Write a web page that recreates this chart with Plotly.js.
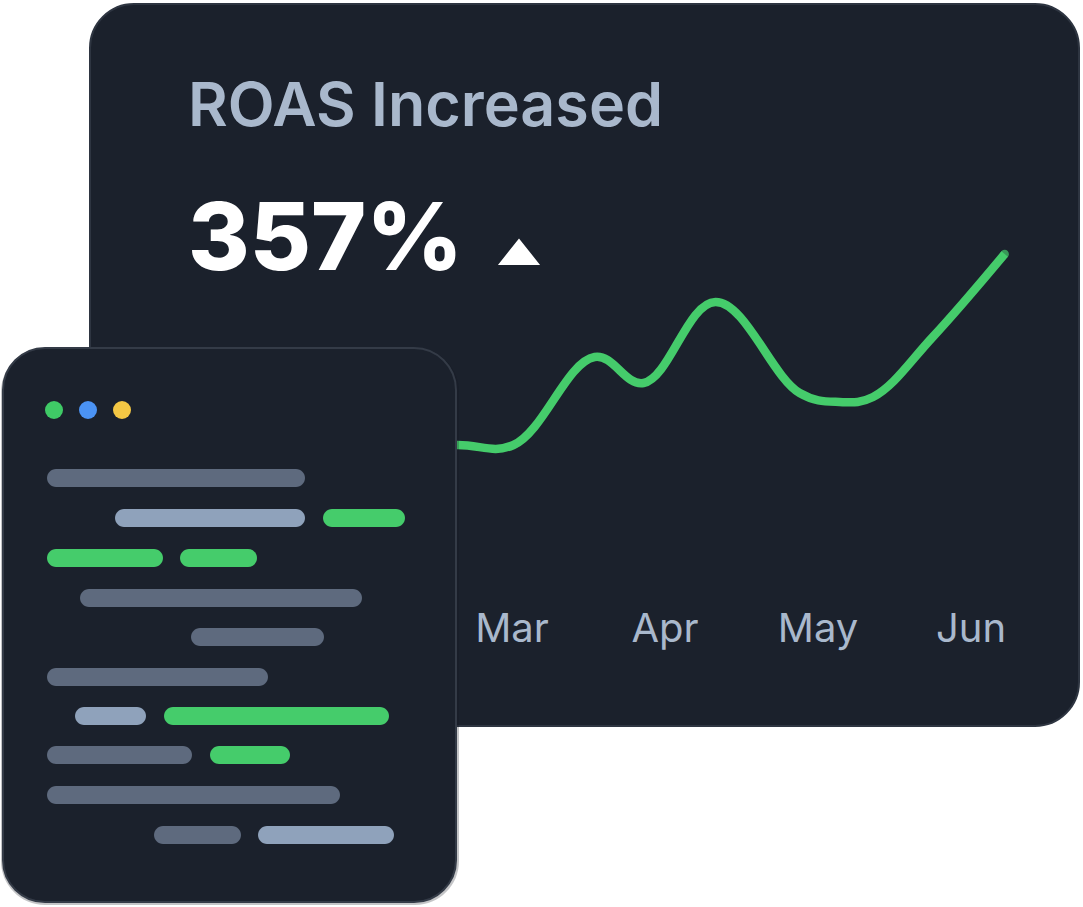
<!DOCTYPE html>
<html>
<head>
<meta charset="utf-8">
<script src="https://cdn.plot.ly/plotly-3.0.1.min.js"></script>
<style>
  html, body { margin: 0; padding: 0; background: #ffffff; }
  #chart { width: 1083px; height: 907px; }
</style>
</head>
<body>
<div id="chart"></div>
<script>
// ---- Data ----
var months = ['Jan', 'Feb', 'Mar', 'Apr', 'May', 'Jun'];
var visibleMonthIdx = [2, 3, 4, 5];
// time position in months (0 = Jan) and ROAS values
var roasT = [0, 1, 1.64, 2.01, 2.54, 2.86, 3.33, 3.88, 4.14, 4.36, 4.75, 5.22];
var roasV = [1.55, 1.62, 1.65, 1.65, 2.53, 2.27, 3.08, 2.17, 2.08, 2.13, 2.73, 3.56];
var titleText = 'ROAS Increased';
var kpiText = '357%';

// ---- Geometry helpers (decoration only) ----
var W = 1083, H = 907;
function px(x) { return x / W; }
function py(y) { return 1 - y / H; }
function rr(x0, y0, x1, y1, r) {
  var k = 0.5523 * r;
  var p = [];
  p.push('M', px(x0 + r), py(y0));
  p.push('L', px(x1 - r), py(y0));
  p.push('C', px(x1 - r + k), py(y0), px(x1), py(y0 + r - k), px(x1), py(y0 + r));
  p.push('L', px(x1), py(y1 - r));
  p.push('C', px(x1), py(y1 - r + k), px(x1 - r + k), py(y1), px(x1 - r), py(y1));
  p.push('L', px(x0 + r), py(y1));
  p.push('C', px(x0 + r - k), py(y1), px(x0), py(y1 - r + k), px(x0), py(y1 - r));
  p.push('L', px(x0), py(y0 + r));
  p.push('C', px(x0), py(y0 + r - k), px(x0 + r - k), py(y0), px(x0 + r), py(y0));
  p.push('Z');
  return p.join(' ').replace(/ ([\d.-]+) ([\d.-]+)/g, ' $1,$2');
}

var cardBg = '#1b212c';
var grayBar = '#5e6a7e';
var lightBar = '#8fa2bb';
var greenC = '#45cc6b';

var shapes = [];
// big card
shapes.push({type: 'path', xref: 'paper', yref: 'paper', layer: 'below',
  path: rr(90, 4, 1079, 726, 44), fillcolor: cardBg, line: {color: '#2e3541', width: 2}});

// small card shadow + card
shapes.push({type: 'path', xref: 'paper', yref: 'paper', layer: 'above',
  path: rr(1, 348, 459, 905, 44), fillcolor: 'rgba(20,24,32,0.25)', line: {width: 0}});
shapes.push({type: 'path', xref: 'paper', yref: 'paper', layer: 'above',
  path: rr(3, 348, 456, 902, 42), fillcolor: cardBg, line: {color: '#343b47', width: 2}});

// window dots
var dots = [[54, '#3fca66'], [88, '#4b93f4'], [122, '#f4c744']];
dots.forEach(function (d) {
  shapes.push({type: 'circle', xref: 'paper', yref: 'paper', layer: 'above',
    x0: px(d[0] - 9), x1: px(d[0] + 9), y0: py(410 + 9), y1: py(410 - 9),
    fillcolor: d[1], line: {width: 0}});
});

// code bars: [x0, x1, yCenter, color]
var codeBars = [
  [47, 305, 478, grayBar],
  [115, 305, 518, lightBar], [323, 405, 518, greenC],
  [47, 163, 558, greenC], [180, 257, 558, greenC],
  [80, 362, 598, grayBar],
  [191, 324, 637, grayBar],
  [47, 268, 677, grayBar],
  [75, 146, 716, lightBar], [164, 389, 716, greenC],
  [47, 192, 755, grayBar], [210, 290, 755, greenC],
  [47, 340, 795, grayBar],
  [154, 241, 835, grayBar], [258, 394, 835, lightBar]
];
codeBars.forEach(function (b) {
  shapes.push({type: 'path', xref: 'paper', yref: 'paper', layer: 'above',
    path: rr(b[0], b[2] - 9, b[1], b[2] + 9, 9), fillcolor: b[3], line: {width: 0}});
});

// up triangle
shapes.push({type: 'path', xref: 'paper', yref: 'paper', layer: 'below',
  path: ['M', px(500) + ',' + py(264), 'L', px(538) + ',' + py(264), 'L', px(519) + ',' + py(240), 'Z'].join(' '),
  fillcolor: '#ffffff', line: {color: '#ffffff', width: 2}});

// ---- Axis mapping ----
var plotBottomPx = 601;       // bottom of plot area in pixels
var yTopVal = 6.1;            // value at top edge
var yPerPx = 0.01;
var yBotVal = yTopVal - plotBottomPx * yPerPx;
var x0px = 206, xStep = 153;  // Jan pixel, pixels per month

var sizes = roasT.map(function (t, i) { return i === roasT.length - 1 ? 8.5 : 0; });

var trace = {
  x: roasT, y: roasV, type: 'scatter', mode: 'lines+markers',
  line: {color: greenC, width: 8.5, shape: 'spline', smoothing: 1.1},
  marker: {color: greenC, size: sizes, line: {width: 0}},
  hoverinfo: 'skip', showlegend: false
};

var layout = {
  width: W, height: H,
  margin: {l: 0, r: 0, t: 0, b: 0, pad: 0},
  paper_bgcolor: '#ffffff',
  plot_bgcolor: 'rgba(0,0,0,0)',
  showlegend: false,
  title: {
    text: titleText, xref: 'paper', yref: 'paper',
    x: px(188), y: py(105), xanchor: 'left', yanchor: 'middle',
    font: {family: 'Inter, "Noto Sans", sans-serif', size: 61, color: '#a9b8cc', weight: 600}
  },
  xaxis: {
    range: [-x0px / xStep, (W - x0px) / xStep],
    tickvals: visibleMonthIdx,
    ticktext: visibleMonthIdx.map(function (i) { return months[i]; }),
    showgrid: false, zeroline: false, showline: false, ticks: '',
    tickfont: {family: 'Inter, "Noto Sans", sans-serif', size: 40, color: '#a9b8cc'},
    fixedrange: true
  },
  yaxis: {
    domain: [1 - plotBottomPx / H, 1],
    range: [yBotVal, yTopVal],
    visible: false, fixedrange: true
  },
  shapes: shapes,
  annotations: [{
    text: kpiText, xref: 'paper', yref: 'paper',
    x: px(186), y: py(236), xanchor: 'left', yanchor: 'middle', showarrow: false,
    font: {family: 'Inter, "Noto Sans", sans-serif', size: 94, color: '#ffffff', weight: 800}
  }]
};

Plotly.newPlot('chart', [trace], layout, {displayModeBar: false, staticPlot: true});
</script>
</body>
</html>
